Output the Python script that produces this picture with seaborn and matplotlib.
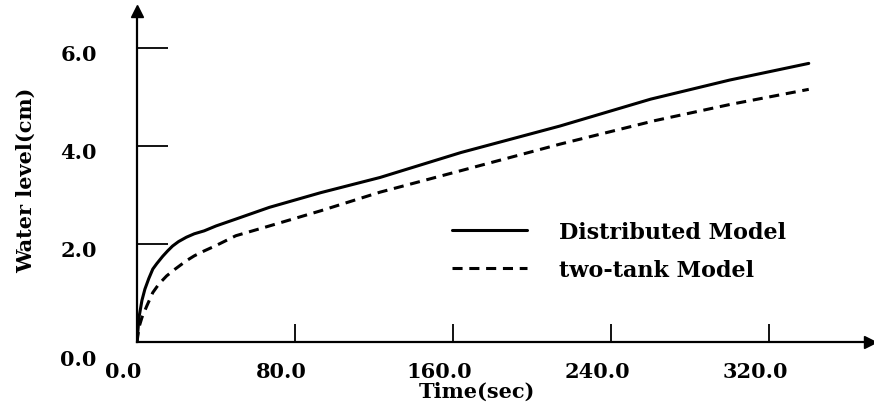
import numpy as np
import pandas as pd
import seaborn as sns
import matplotlib.pyplot as plt
import matplotlib.transforms as mtransforms

# values
time_dist = [0, 1, 2.5, 4, 6, 8, 10, 13, 15.5, 18, 21, 25, 29, 34, 40, 50, 67, 93, 123, 164, 214, 260, 300, 340]
level_dist = [0, 0.5, 0.85, 1.08, 1.30, 1.49, 1.60, 1.75, 1.86, 1.96, 2.05, 2.14, 2.21, 2.27, 2.37, 2.51, 2.75, 3.05, 3.36, 3.87, 4.41, 4.96, 5.35, 5.69]
time_tank = [0, 1, 2.5, 5, 8, 11, 15, 19, 25, 29, 34, 40, 50, 67, 93, 123, 164, 214, 262, 300, 340]
level_tank = [0, 0.3, 0.5, 0.74, 1.01, 1.18, 1.35, 1.48, 1.66, 1.76, 1.86, 1.97, 2.17, 2.37, 2.68, 3.06, 3.50, 4.04, 4.52, 4.85, 5.16]
x_ticks = [0, 80, 160, 240, 320]
y_ticks = [0, 2, 4, 6]

df = pd.concat([
    pd.DataFrame({"time": time_dist, "level": level_dist, "model": "Distributed Model"}),
    pd.DataFrame({"time": time_tank, "level": level_tank, "model": "two-tank Model"}),
])

sns.set_style("white")
plt.rcParams['font.family'] = ['DejaVu Serif']
plt.rcParams['font.weight'] = 'bold'
plt.rcParams['text.color'] = 'black'
plt.rcParams['axes.labelcolor'] = 'black'
plt.rcParams['xtick.color'] = 'black'
plt.rcParams['ytick.color'] = 'black'

fig = plt.figure(figsize=(8.74, 4.10), dpi=100)
ax = fig.add_axes([137/874, 67/410, 733/874, 331/410])

sns.lineplot(data=df, x="time", y="level", style="model",
             dashes={"Distributed Model": "", "two-tank Model": (3.3, 2.2)},
             color="black", linewidth=2.2, ax=ax, sort=False, estimator=None)

ax.set_xlim(0, 371)
ax.set_ylim(0, 6.76)

for s in ["top", "right"]:
    ax.spines[s].set_visible(False)
for s in ["left", "bottom"]:
    ax.spines[s].set_color("black")
    ax.spines[s].set_linewidth(1.6)

# arrow heads on the axes
ax.plot(0, 1, marker="^", color="black", markersize=9, transform=ax.transAxes, clip_on=False)
ax.plot(1, 0, marker=">", color="black", markersize=9, transform=ax.transAxes, clip_on=False)

ax.set_xticks(x_ticks)
ax.set_xticklabels([f"{v:.1f}" for v in x_ticks], fontsize=15, fontweight="bold")
ax.set_yticks(y_ticks)
ax.set_yticklabels([f"{v:.1f}" for v in y_ticks], fontsize=15, fontweight="bold")
ax.tick_params(axis="y", left=True, direction="in", length=22, width=1.3, pad=29, colors="black")
ax.tick_params(axis="x", bottom=True, direction="in", length=13, width=1.3, pad=14, colors="black")

# nudge tick labels like the original
for lab in ax.get_xticklabels():
    lab.set_transform(lab.get_transform() + mtransforms.ScaledTranslation(-14/100, 0, fig.dpi_scale_trans))
for lab, v in zip(ax.get_yticklabels(), y_ticks):
    dy = -15 if v == 0 else -4
    lab.set_transform(lab.get_transform() + mtransforms.ScaledTranslation(0, dy/100, fig.dpi_scale_trans))

ax.set_xlabel("Time(sec)", fontsize=15, fontweight="bold")
ax.set_ylabel("Water level(cm)", fontsize=15, fontweight="bold")
ax.xaxis.set_label_coords(0.464, -0.118)
ax.yaxis.set_label_coords(-0.138, 0.49)

leg = ax.legend(loc="upper left", bbox_to_anchor=((443-137)/733, (343-213)/331),
                frameon=False, fontsize=16, handlelength=3.4, handletextpad=1.4,
                labelspacing=0.72, borderaxespad=0)
for t in leg.get_texts():
    t.set_fontweight("bold")

fig.savefig("out.png", dpi=100)
